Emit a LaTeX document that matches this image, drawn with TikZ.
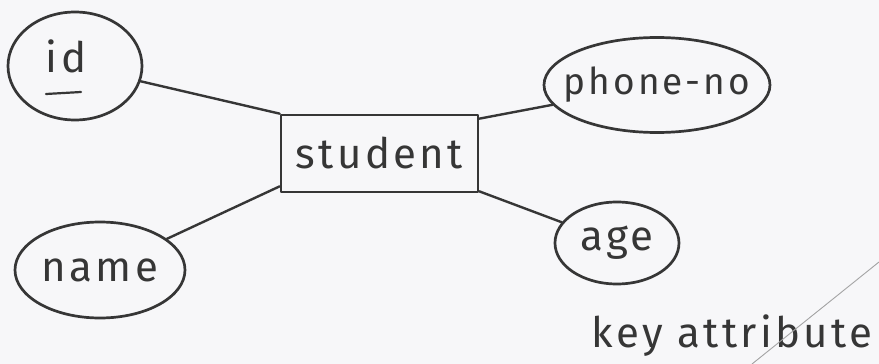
\documentclass[tikz,border=0pt]{standalone}
\usepackage{fontspec}
\setmainfont[LetterSpace=8]{Fira Sans}
\usetikzlibrary{shapes.geometric}
\definecolor{ink}{HTML}{363636}
\definecolor{paper}{HTML}{F7F7F9}
\newcommand{\fixw}[1]{\makebox[0pt]{#1}}
\tikzset{
  pen/.style={draw=ink, line width=2.7pt, line cap=round, line join=round},
  hand/.style={font=\fontsize{42}{42}\selectfont},
  attr/.style={pen, ellipse, inner sep=0pt, text=ink, hand},
  entity/.style={pen, rectangle, inner sep=0pt, text=ink, hand},
  link/.style={pen, line width=2.4pt},
  note/.style={text=ink, inner sep=0pt, hand}
}
\begin{document}
\begin{tikzpicture}[x=1pt, y=-1pt]
  \fill[paper] (0,0) rectangle (879,364);
  \useasboundingbox (0,0) rectangle (879,364);

  % entity
  \node[entity, minimum width=197pt, minimum height=77pt] (student) at (379.5,153.5) {\fixw{student}};

  % attributes (ellipse size fixed, label boxed to zero width)
  \node[attr, minimum width=134pt, minimum height=108pt] (id) at (75,66) {};
  \node[text=ink, hand, inner sep=0pt] (idtext) at (66,56) {id};
  \node[attr, minimum width=226pt, minimum height=95pt, font=\fontsize{37}{37}\selectfont] (phone) at (657,85) {\fixw{phone-no}};
  \node[attr, minimum width=124pt, minimum height=82pt] (age) at (617,243) {\fixw{age}};
  \node[attr, minimum width=170pt, minimum height=96pt] (name) at (100,270) {\fixw{name}};

  % key underline below the id label
  \draw[pen, line width=2.2pt] ([shift={(-20,38)}]idtext.center) -- ([shift={(15,36)}]idtext.center);

  % connectors
  \draw[link] (id) -- (student.north west);
  \draw[link] ([yshift=-5pt]student.north east) -- (phone);
  \draw[link] ([yshift=2pt]student.south east) -- (age);
  \draw[link] (name) -- ([yshift=7pt]student.south west);

  % caption
  \node[note, anchor=base] (caption) at (732,347) {key attribute};

  % faint stroke across the corner
  \coordinate (s1) at (752,364);
  \coordinate (s2) at (879,262);
  \draw[ink!45, line width=0.9pt] (s1) -- (s2);
\end{tikzpicture}
\end{document}
